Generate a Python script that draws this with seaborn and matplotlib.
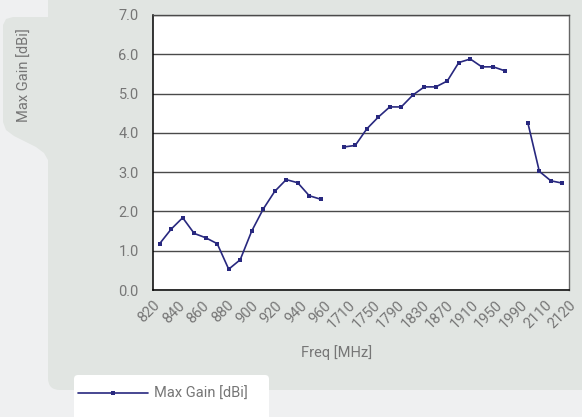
import matplotlib
matplotlib.use("Agg")

import numpy as np
import pandas as pd
import matplotlib.pyplot as plt
import seaborn as sns
from matplotlib.patches import FancyBboxPatch, Polygon
from matplotlib.lines import Line2D
from matplotlib.transforms import IdentityTransform

# -----------------------------
# DATA
# -----------------------------
freq_900 = [820, 830, 840, 850, 860, 870, 880, 890, 900, 910, 920, 930, 940, 950, 960]
gain_900 = [1.18, 1.55, 1.84, 1.44, 1.33, 1.18, 0.53, 0.77, 1.50, 2.06, 2.51, 2.81, 2.73, 2.40, 2.31]

freq_1800 = [1710, 1730, 1750, 1770, 1790, 1810, 1830, 1850, 1870, 1890, 1910, 1930, 1950, 1970, 1990]
gain_1800 = [3.64, 3.68, 4.10, 4.40, 4.66, 4.66, 4.96, 5.17, 5.17, 5.32, 5.79, 5.88, 5.68, 5.68, 5.58]

freq_2100 = [2110, 2130, 2150, 2170]
gain_2100 = [4.26, 3.02, 2.78, 2.72]

tick_labels = ["820", "840", "860", "880", "900", "920", "940", "960",
               "1710", "1750", "1790", "1830", "1870", "1910", "1950", "1990", "2110", "2120"]

# -----------------------------
# BUILD TABLE (category slots, one empty slot between bands)
# -----------------------------
rows = []
slot = 0
for band, (fr, gn) in enumerate([(freq_900, gain_900), (freq_1800, gain_1800), (freq_2100, gain_2100)]):
    for f, g in zip(fr, gn):
        rows.append({"slot": slot, "freq": f, "gain": g, "band": band})
        slot += 1
    slot += 1
df = pd.DataFrame(rows)

# -----------------------------
# FIGURE
# -----------------------------
sns.set_style("white")
plt.rcParams["font.family"] = ["Roboto", "DejaVu Sans"]

W, H = 582, 417
fig = plt.figure(figsize=(W / 100, H / 100), dpi=100, facecolor="#eff0f1")
ident = IdentityTransform()
txt_color = "#767676"

# grey panel behind the chart
fig.add_artist(FancyBboxPatch((48, H - 390), 700, 500,
                              boxstyle="round,pad=0,rounding_size=12",
                              fc="#e1e5e2", ec="none", transform=ident, zorder=0))
# tab on the left for the y label
tab = [(48, H - 17), (13, H - 17), (6, H - 19), (3, H - 25), (3, H - 122),
       (6, H - 130), (14, H - 136), (36, H - 147), (44, H - 153), (48, H - 160)]
fig.add_artist(Polygon(tab, closed=True, fc="#e1e5e2", ec="none", transform=ident, zorder=0))
# white legend box
fig.add_artist(FancyBboxPatch((74, -10), 195, 52,
                              boxstyle="round,pad=0,rounding_size=4",
                              fc="white", ec="none", transform=ident, zorder=0))

ax = fig.add_axes([153 / W, 1 - 290 / H, 416 / W, 275 / H])
ax.set_facecolor("white")

line_color = "#28287f"
sns.lineplot(data=df, x="slot", y="gain", units="band", estimator=None,
             color=line_color, lw=1.2, marker="s", markersize=3,
             markeredgewidth=0, ax=ax)

ax.set_xlim(-0.58, 35.58)
ax.set_ylim(0, 7)
ax.set_yticks(np.arange(0, 7.01, 1.0))
ax.set_yticklabels([f"{v:.1f}" for v in np.arange(0, 7.01, 1.0)])
ax.set_xticks(np.linspace(-0.58, 35.58, len(tick_labels)))
ax.set_xticklabels(tick_labels, rotation=45, ha="right", rotation_mode="anchor")

ax.grid(axis="y", color="#4a4a4a", lw=1.0)
ax.grid(axis="x", visible=False)
ax.set_axisbelow(True)

for side in ["left", "bottom"]:
    ax.spines[side].set_color("black")
    ax.spines[side].set_linewidth(1.1)
ax.spines["right"].set_color("#666666")
ax.spines["right"].set_linewidth(1.0)
ax.spines["top"].set_color("#4a4a4a")
ax.spines["top"].set_linewidth(1.0)

ax.tick_params(axis="y", direction="out", length=4.3, width=1, color="black",
               labelsize=10.5, labelcolor=txt_color, pad=6)
ax.tick_params(axis="x", direction="inout", length=8, width=1, color="black",
               labelsize=10.5, labelcolor=txt_color, pad=2)
ax.set_xlabel("")
ax.set_ylabel("")

fig.text(337 / W, 1 - 353 / H, "Freq [MHz]", ha="center", va="center",
         fontsize=10.5, color=txt_color)
fig.text(25 / W, 1 - 75 / H, "Max Gain [dBi]", ha="center", va="center",
         rotation=90, fontsize=10.5, color=txt_color)

# legend
handle = Line2D([0, 1, 2], [0, 0, 0], color=line_color, lw=1.2, marker="s",
                markersize=3, markeredgewidth=0, markevery=[1])
fig.legend([handle], ["Max Gain [dBi]"], loc="center left",
           bbox_to_anchor=(78 / W, 1 - 394 / H), frameon=False,
           handlelength=4.8, handletextpad=0.4, fontsize=10.5,
           labelcolor=txt_color, borderaxespad=0, borderpad=0)

fig.savefig("out.png", dpi=100, facecolor=fig.get_facecolor())
plt.close(fig)
